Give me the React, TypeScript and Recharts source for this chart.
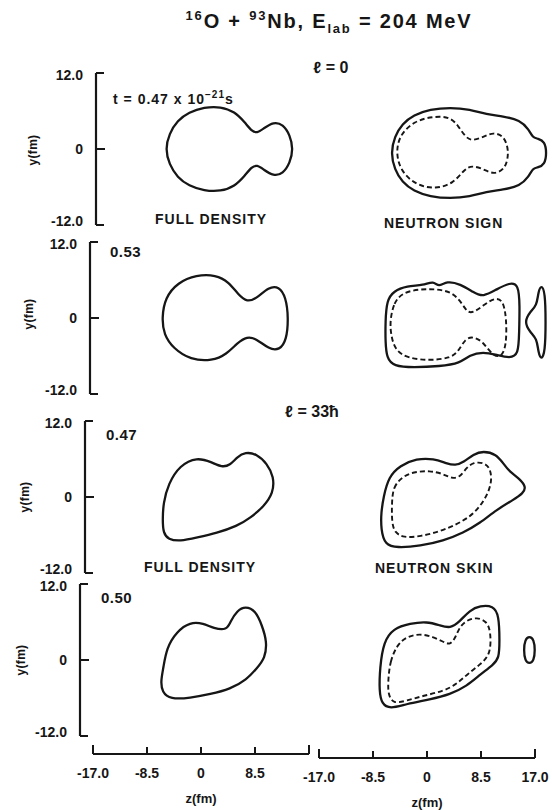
import { LineChart, Line, XAxis, YAxis } from "recharts";

const INK = "#161616";
const FONT = "'Liberation Sans', Arial, sans-serif";

type Pt = { x: number; y: number };
const pts = (a: number[][]): Pt[] => a.map(([x, y]) => ({ x, y }));

// axis ticks (fm)
const Y_TICKS = [-12, 0, 12];
const Z_TICKS = [-17, -8.5, 0, 8.5, 17];

// times (10^-21 s) per row
const TIMES = ["0.47", "0.53", "0.47", "0.50"];

// ---- l = 0, t = 0.47 ----
const r1Full = pts([
  [-8.1, 0], [-7.5, 2.4], [-6.2, 4.5], [-4.4, 5.8], [-2.0, 6.6], [0.6, 6.7], [2.8, 5.9], [4.4, 4.2],
  [5.5, 2.8], [6.3, 2.5], [7.3, 3.2], [8.9, 4.3], [10.4, 3.9], [11.5, 2.2], [12.0, 0], [11.5, -2.2],
  [10.4, -3.9], [8.9, -4.3], [7.3, -3.2], [6.3, -2.5], [5.5, -2.8], [4.4, -4.2], [2.8, -5.9], [0.6, -6.7],
  [-2.0, -6.6], [-4.4, -5.8], [-6.2, -4.5], [-7.5, -2.4],
]);
const r1SkinOuter = pts([
  [-8.2, 0], [-7.6, 2.6], [-6.4, 4.6], [-4.6, 6.0], [-2.0, 6.9], [1.2, 7.2], [4.3, 6.9], [6.9, 6.1],
  [9.5, 5.8], [12.2, 5.2], [13.6, 3.7], [14.2, 2.4], [15.0, 2.3], [16.1, 1.8], [16.4, 0], [16.1, -1.8],
  [15.0, -2.3], [14.2, -2.4], [13.6, -3.7], [12.2, -5.2], [9.5, -5.8], [6.9, -6.1], [4.3, -6.9], [1.2, -7.2],
  [-2.0, -6.9], [-4.6, -6.0], [-6.4, -4.6], [-7.6, -2.6],
]);
const r1SkinInner = pts([
  [-7.4, 0], [-6.8, 2.9], [-4.4, 5.1], [-1.4, 5.8], [1.2, 5.7], [2.5, 4.2], [3.6, 2.5], [4.6, 1.9],
  [6.4, 2.5], [8.0, 3.3], [9.6, 2.7], [10.3, 0.9], [10.3, -0.9], [9.7, -2.6], [8.1, -3.4], [6.5, -2.6],
  [4.6, -1.9], [3.3, -2.7], [1.7, -4.8], [-1.1, -5.7], [-4.2, -5.1], [-6.6, -2.9],
]);

// ---- l = 0, t = 0.53 ----
const r2Full = pts([
  [-7.7, 0], [-7.2, 3.2], [-5.2, 5.6], [-2.3, 6.8], [0.8, 6.8], [2.8, 5.7], [4.3, 3.7], [5.7, 2.5],
  [7.2, 3.1], [9.1, 4.9], [10.7, 5.0], [11.8, 3.3], [12.2, 0], [11.9, -3.5], [10.8, -5.1], [9.1, -4.9],
  [7.2, -3.3], [5.7, -2.9], [4.1, -4.0], [2.5, -5.7], [0.2, -6.8], [-3.2, -6.6], [-5.9, -4.8], [-7.4, -2.6],
]);
const r2SkinOuter = pts([
  [-8.1, 0], [-7.9, 3.4], [-6.8, 4.9], [-4.7, 5.7], [-2.1, 5.8], [-0.5, 6.5], [0.3, 5.5], [1.6, 6.5],
  [3.7, 6.0], [5.8, 4.7], [7.3, 3.9], [9.5, 5.2], [11.5, 6.2], [12.9, 6.0], [13.1, 2.6], [13.0, -1.6],
  [12.9, -5.2], [11.5, -5.7], [9.5, -5.2], [7.3, -4.7], [5.2, -5.2], [3.7, -6.5], [0.5, -7.0], [-3.7, -7.2],
  [-6.8, -7.0], [-7.9, -5.7], [-8.1, -3.1],
]);
const r2SkinInner = pts([
  [-7.4, 0], [-6.8, 3.1], [-5.3, 4.7], [-2.6, 5.2], [0, 5.2], [2.6, 4.7], [4.2, 2.6], [5.2, 1.0],
  [7.3, 2.6], [9.2, 3.9], [10.5, 3.4], [11.0, 0.5], [11.0, -3.6], [10.2, -5.7], [8.7, -5.2], [7.3, -3.1],
  [5.8, -2.3], [4.5, -2.6], [3.4, -4.7], [2.1, -5.7], [-1.1, -6.1], [-4.7, -5.7], [-6.6, -4.4], [-7.2, -2.1],
]);
const r2SkinLobe = pts([
  [16.5, 5.9], [17.1, 4.7], [17.2, 0], [17.1, -4.7], [16.5, -6.1], [16.0, -4.7], [15.8, -2.6],
  [14.7, -1.6], [13.8, 0], [14.7, 1.6], [15.8, 2.6], [16.0, 4.7],
]);

// ---- l = 33 hbar, t = 0.47 ----
const r3Full = pts([
  [-5.9, 2.1], [-4.1, 5.0], [-1.4, 6.3], [0.9, 5.5], [2.5, 4.7], [3.8, 5.0], [4.9, 6.3], [6.2, 7.1],
  [8.0, 6.8], [9.6, 5.3], [10.7, 3.2], [10.6, 0.6], [9.1, -1.5], [7.0, -3.3], [4.9, -4.6], [1.7, -5.7],
  [-1.4, -6.4], [-4.1, -7.0], [-5.9, -6.7], [-6.7, -5.7], [-6.8, -3.6], [-6.7, -1.0],
]);
const r3SkinOuter = pts([
  [-7.6, 0.7], [-6.8, 3.8], [-5.0, 5.6], [-2.4, 6.7], [0.3, 6.7], [2.4, 5.9], [3.7, 5.6], [5.0, 6.1],
  [6.6, 7.4], [8.1, 7.9], [10.2, 7.4], [11.3, 5.9], [12.3, 4.6], [13.9, 3.5], [14.9, 2.2], [14.4, 1.2],
  [12.9, 0.2], [10.2, -1.4], [7.6, -3.5], [5.0, -5.0], [1.8, -6.3], [-1.8, -7.1], [-5.5, -7.4], [-7.4, -6.9],
  [-8.0, -4.5], [-8.0, -1.9],
]);
const r3SkinInner = pts([
  [-6.3, -0.4], [-6.1, 2.2], [-4.7, 3.8], [-2.9, 4.6], [-0.3, 4.8], [1.8, 4.3], [3.2, 3.5], [4.5, 3.8],
  [5.5, 5.3], [6.6, 6.1], [8.1, 6.1], [9.2, 5.3], [9.5, 3.3], [8.9, 1.2], [7.6, -0.9], [6.0, -2.5],
  [3.9, -3.7], [1.3, -4.8], [-1.8, -5.6], [-4.5, -5.8], [-5.8, -5.0], [-6.3, -3.5],
]);

// ---- l = 33 hbar, t = 0.50 ----
const r4Full = pts([
  [-5.9, -1.3], [-5.4, 1.9], [-3.8, 4.5], [-1.7, 6.0], [0.4, 5.8], [2.0, 5.0], [4.1, 4.7], [4.6, 6.0],
  [5.7, 7.8], [7.0, 8.5], [8.6, 7.8], [9.6, 5.5], [10.4, 2.9], [10.1, 0.3], [8.8, -1.3], [7.2, -3.1],
  [4.6, -4.6], [1.5, -5.4], [-1.7, -6.0], [-4.8, -6.2], [-6.1, -5.1], [-6.3, -3.3],
]);
const r4SkinOuter = pts([
  [-7.4, -0.6], [-6.8, 3.5], [-5.3, 5.6], [-2.6, 6.4], [0, 6.7], [2.1, 6.1], [3.7, 5.6], [5.2, 6.7],
  [6.8, 8.5], [8.4, 9.2], [10.5, 9.2], [11.4, 7.7], [11.5, 3.5], [11.4, 0.9], [10.5, -0.1], [8.4, -1.7],
  [6.3, -3.5], [3.7, -4.8], [0.5, -5.6], [-3.2, -6.3], [-5.8, -7.1], [-7.1, -6.3], [-7.5, -4.3],
]);
const r4SkinInner = pts([
  [-6.1, -2.7], [-5.8, 0.4], [-4.7, 3.0], [-3.2, 4.3], [-1.1, 4.8], [1.0, 4.3], [2.6, 3.5], [3.7, 3.0],
  [4.5, 4.1], [5.2, 5.9], [6.3, 6.9], [7.9, 7.4], [9.5, 6.7], [10.1, 5.1], [10.1, 1.5], [8.4, -0.1],
  [6.3, -1.7], [4.7, -3.2], [2.6, -4.3], [-0.5, -5.0], [-3.2, -5.8], [-5.3, -6.3], [-6.1, -4.8],
]);
const r4SkinBlob = pts([
  [16.2, 4.4], [16.9, 3.9], [17.1, 2.2], [16.9, 0.5], [16.2, 0.0], [15.5, 0.5], [15.3, 2.2], [15.5, 3.9],
]);

type Contour = { data: Pt[]; dashed?: boolean };

// layout (px)
const H = 152; // 24 fm
const PAD = 12;
const YW = 64;
const LEFT_DOMAIN: [number, number] = [-19, 17];
const LEFT_W = 229;
const RIGHT_DOMAIN: [number, number] = [-17, 18.5];
const RIGHT_W = 225;

const rows: { axisX: number; top: number; full: Contour[]; skin: Contour[] }[] = [
  { axisX: 96, top: 73, full: [{ data: r1Full }], skin: [{ data: r1SkinOuter }, { data: r1SkinInner, dashed: true }] },
  {
    axisX: 90, top: 242, full: [{ data: r2Full }],
    skin: [{ data: r2SkinOuter }, { data: r2SkinInner, dashed: true }, { data: r2SkinLobe }],
  },
  { axisX: 85, top: 421, full: [{ data: r3Full }], skin: [{ data: r3SkinOuter }, { data: r3SkinInner, dashed: true }] },
  {
    axisX: 80, top: 584, full: [{ data: r4Full }],
    skin: [{ data: r4SkinOuter }, { data: r4SkinInner, dashed: true }, { data: r4SkinBlob }],
  },
];

const textStyle = { fontFamily: FONT, fontSize: 14, fontWeight: 700, fill: INK };

// eslint-disable-next-line @typescript-eslint/no-explicit-any
const renderYTick = (p: any) => {
  const v = p.payload.value as number;
  const label = v === 0 ? "0" : v.toFixed(1);
  const nudge = v < 0 ? -4 : v > 0 ? 2 : 0; // labels sit just inside the bracket ends
  return (
    <g>
      <line x1={p.x} y1={p.y} x2={p.x + (v === 0 ? 9 : 8)} y2={p.y} stroke={INK} strokeWidth={2} />
      <text x={p.x - 13} y={p.y + nudge} dy="0.36em" textAnchor="end" {...textStyle}>{label}</text>
    </g>
  );
};

// eslint-disable-next-line @typescript-eslint/no-explicit-any
const zTick = (labelLast: boolean) => (p: any) => {
  const v = p.payload.value as number;
  const end = Math.abs(v) === 17;
  const label = v === 0 ? "0" : end ? v.toFixed(1) : String(v);
  return (
    <g>
      <line x1={p.x} y1={p.y} x2={p.x} y2={p.y - (end ? 9 : 7)} stroke={INK} strokeWidth={2} />
      {(labelLast || v !== 17) && (
        <text x={p.x} y={p.y + 24} textAnchor="middle" {...textStyle}>{label}</text>
      )}
    </g>
  );
};

function Panel({ left, top, width, domain, lines, withAxis }: {
  left: number; top: number; width: number; domain: [number, number]; lines: Contour[]; withAxis: boolean;
}) {
  const yw = withAxis ? YW : 0;
  return (
    <div style={{ position: "absolute", left: left - yw, top: top - PAD }}>
      <LineChart width={width + yw} height={H + PAD * 2} margin={{ top: PAD, right: 0, bottom: PAD, left: 0 }}>
        <XAxis type="number" dataKey="x" domain={domain} hide />
        <YAxis
          type="number"
          domain={[-12, 12]}
          ticks={Y_TICKS}
          interval={0}
          hide={!withAxis}
          width={YW}
          tickSize={0}
          tickMargin={0}
          tickLine={false}
          axisLine={{ stroke: INK, strokeWidth: 2.2 }}
          tick={renderYTick}
        />
        {lines.map((c, i) => (
          <Line
            key={i}
            data={c.data}
            dataKey="y"
            type="basisClosed"
            stroke={INK}
            strokeWidth={c.dashed ? 1.9 : 2.3}
            strokeDasharray={c.dashed ? "5 3" : undefined}
            dot={false}
            activeDot={false}
            isAnimationActive={false}
          />
        ))}
      </LineChart>
    </div>
  );
}

function ZStrip({ left, axisY, labelLast }: { left: number; axisY: number; labelLast: boolean }) {
  return (
    <div style={{ position: "absolute", left: left - 20, top: axisY - 20 }}>
      <LineChart width={216 + 40} height={76} margin={{ top: 10, right: 20, bottom: 0, left: 20 }} data={Z_TICKS.map((x) => ({ x }))}>
        <XAxis
          type="number"
          dataKey="x"
          domain={[-17, 17]}
          ticks={Z_TICKS}
          interval={0}
          height={56}
          tickSize={0}
          tickMargin={0}
          tickLine={false}
          axisLine={{ stroke: INK, strokeWidth: 2.2 }}
          tick={zTick(labelLast)}
          label={{ value: "z(fm)", position: "insideBottom", offset: 7, ...textStyle, fontSize: 13 }}
        />
      </LineChart>
    </div>
  );
}

const abs = (left: number, top: number, extra: React.CSSProperties = {}): React.CSSProperties => ({
  position: "absolute", left, top, transform: "translateY(-50%)", whiteSpace: "nowrap",
  fontFamily: FONT, fontWeight: 700, fontSize: 14, letterSpacing: 1, color: INK, lineHeight: 1, ...extra,
});

const yLabelPos = [
  { x: 33, y: 150 }, { x: 29, y: 314 }, { x: 25, y: 497 }, { x: 21, y: 660 },
];

export default function App() {
  return (
    <div style={{ position: "absolute", left: 0, top: 0, width: 552, height: 810, background: "#fff", overflow: "hidden" }}>
      <div style={abs(329, 22, { transform: "translate(-50%,-50%)", fontSize: 20, letterSpacing: 1.8 })}>
        <sup style={{ fontSize: 13 }}>16</sup>O + <sup style={{ fontSize: 13 }}>93</sup>Nb, E<sub style={{ fontSize: 13 }}>lab</sub> = 204 MeV
      </div>
      <div style={abs(331, 68, { transform: "translate(-50%,-50%)", fontSize: 16, letterSpacing: 0 })}>ℓ = 0</div>
      <div style={abs(312, 412, { transform: "translate(-50%,-50%)", fontSize: 16, letterSpacing: 0 })}>ℓ = 33ħ</div>

      <div style={abs(113, 98, { fontSize: 14, letterSpacing: 1 })}>
        t = {TIMES[0]} x 10<sup style={{ fontSize: 10 }}>−21</sup>s
      </div>
      <div style={abs(110, 251, { fontSize: 15, letterSpacing: 0.5 })}>{TIMES[1]}</div>
      <div style={abs(106, 434, { fontSize: 15, letterSpacing: 0.5 })}>{TIMES[2]}</div>
      <div style={abs(101, 597, { fontSize: 15, letterSpacing: 0.5 })}>{TIMES[3]}</div>

      <div style={abs(155, 219)}>FULL DENSITY</div>
      <div style={abs(384, 223)}>NEUTRON SIGN</div>
      <div style={abs(144, 567)}>FULL DENSITY</div>
      <div style={abs(375, 568)}>NEUTRON SKIN</div>

      {yLabelPos.map((p, i) => (
        <div key={i} style={abs(p.x, p.y, { transform: "translate(-50%,-50%) rotate(-90deg)", fontSize: 12, letterSpacing: 0.3 })}>y(fm)</div>
      ))}

      {rows.map((r, i) => (
        <div key={i}>
          <Panel left={r.axisX} top={r.top} width={LEFT_W} domain={LEFT_DOMAIN} lines={r.full} withAxis />
          <Panel left={r.axisX + 238.7} top={r.top + 4} width={RIGHT_W} domain={RIGHT_DOMAIN} lines={r.skin} withAxis={false} />
        </div>
      ))}

      <ZStrip left={92.7} axisY={754} labelLast={false} />
      <ZStrip left={318.7} axisY={758} labelLast />
    </div>
  );
}
